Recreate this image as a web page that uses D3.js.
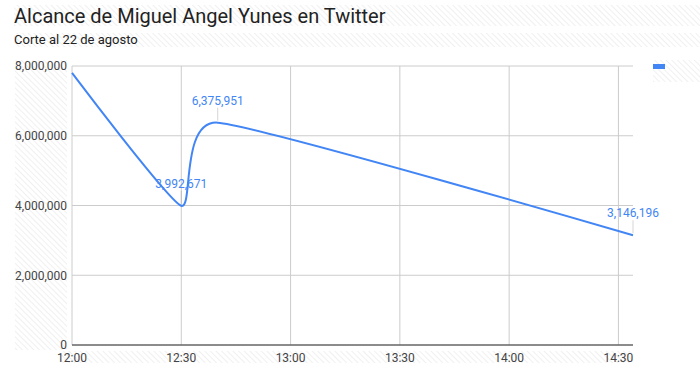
<!DOCTYPE html>
<html>
<head>
<meta charset="utf-8">
<script src="https://cdn.jsdelivr.net/npm/d3@7"></script>
<style>
  body { margin: 0; background: #fff; }
  svg { display: block; font-family: Roboto, "Noto Sans", sans-serif; }
</style>
</head>
<body>
<div id="chart"></div>
<script>
// Data
const times = ["12:00", "12:30", "12:40", "14:34"];
const values = [7800000, 3992671, 6375951, 3146196];
const labeled = [false, true, true, true];
const yTicks = [0, 2000000, 4000000, 6000000, 8000000];
const xTicks = ["12:00", "12:30", "13:00", "13:30", "14:00", "14:30"];
const seriesNames = [""];

const width = 700, height = 370;
const margin = { top: 66, right: 67, bottom: 25, left: 72 };
const blue = "#4285f4";

const parse = d3.timeParse("%H:%M");
const data = times.map((t, i) => ({ t: parse(t), v: values[i], label: labeled[i] }));

const svg = d3.select("#chart").append("svg")
    .attr("width", width)
    .attr("height", height);

// hatch pattern used behind the text areas
const defs = svg.append("defs");
defs.append("pattern")
    .attr("id", "hatch")
    .attr("patternUnits", "userSpaceOnUse")
    .attr("width", 4)
    .attr("height", 4)
    .attr("patternTransform", "rotate(-45)")
    .append("line")
    .attr("x1", 0).attr("y1", 0)
    .attr("x2", 0).attr("y2", 4)
    .attr("stroke", "#ececec")
    .attr("stroke-width", 1.6);

const hatchBoxes = [
    [14, 5, 686, 21],   // title
    [14, 33, 686, 14],  // subtitle
    [15, 60, 52, 290],  // y labels
    [60, 351, 573, 12], // x labels
    [653, 60, 47, 22]   // legend
];
svg.append("g").selectAll("rect")
    .data(hatchBoxes)
    .join("rect")
    .attr("x", d => d[0]).attr("y", d => d[1])
    .attr("width", d => d[2]).attr("height", d => d[3])
    .attr("fill", "url(#hatch)");

const x = d3.scaleTime()
    .domain(d3.extent(data, d => d.t))
    .range([margin.left, width - margin.right]);

const y = d3.scaleLinear()
    .domain([0, 8000000])
    .range([height - margin.bottom, margin.top]);

// plot background
svg.append("rect")
    .attr("x", margin.left).attr("y", margin.top)
    .attr("width", width - margin.right - margin.left)
    .attr("height", height - margin.bottom - margin.top)
    .attr("fill", "#fff");

// gridlines
const grid = svg.append("g");
grid.selectAll(".hgrid")
    .data(yTicks)
    .join("line")
    .attr("x1", margin.left).attr("x2", width - margin.right)
    .attr("y1", d => y(d)).attr("y2", d => y(d))
    .attr("stroke", "#cccccc");

grid.selectAll(".vgrid")
    .data(xTicks)
    .join("line")
    .attr("x1", d => x(parse(d))).attr("x2", d => x(parse(d)))
    .attr("y1", margin.top).attr("y2", height - margin.bottom)
    .attr("stroke", "#cccccc");

// baseline
svg.append("line")
    .attr("x1", margin.left).attr("x2", width - margin.right)
    .attr("y1", y(0)).attr("y2", y(0))
    .attr("stroke", "#333")
    .attr("stroke-width", 1.2);

// y axis labels
const fmt = d3.format(",");
svg.append("g").selectAll("text")
    .data(yTicks)
    .join("text")
    .attr("x", margin.left - 5)
    .attr("y", d => y(d))
    .attr("dy", "0.36em")
    .attr("text-anchor", "end")
    .attr("font-size", 12)
    .attr("fill", "#444")
    .text(d => fmt(d));

// x axis labels
svg.append("g").selectAll("text")
    .data(xTicks)
    .join("text")
    .attr("x", d => x(parse(d)))
    .attr("y", y(0) + 17)
    .attr("text-anchor", "middle")
    .attr("font-size", 12)
    .attr("fill", "#444")
    .text(d => d);

// the line, smoothed like the original "function" curve
const line = d3.line()
    .x(d => x(d.t))
    .y(d => y(d.v))
    .curve(d3.curveCardinal.tension(0.5));

svg.append("path")
    .datum(data)
    .attr("d", line)
    .attr("fill", "none")
    .attr("stroke", blue)
    .attr("stroke-width", 2);

// annotations
const ann = svg.append("g").selectAll("g")
    .data(data.filter(d => d.label))
    .join("g")
    .attr("transform", d => `translate(${x(d.t)},${y(d.v)})`);

ann.append("line")
    .attr("x1", 0).attr("x2", 0)
    .attr("y1", -15).attr("y2", -2)
    .attr("stroke", "#999")
    .attr("stroke-opacity", 0.4);

ann.append("text")
    .attr("y", -18)
    .attr("text-anchor", "middle")
    .attr("font-size", 12)
    .attr("fill", blue)
    .text(d => fmt(d.v));

// legend (series has no name)
const legend = svg.append("g")
    .attr("transform", "translate(653,64)");
legend.selectAll("rect")
    .data(seriesNames)
    .join("rect")
    .attr("width", 12).attr("height", 5)
    .attr("fill", blue);
legend.selectAll("text")
    .data(seriesNames)
    .join("text")
    .attr("x", 16).attr("y", 5)
    .attr("font-size", 12)
    .text(d => d);

// titles
svg.append("text")
    .attr("x", 14).attr("y", 23)
    .attr("font-size", 20)
    .attr("fill", "#222")
    .text("Alcance de Miguel Angel Yunes en Twitter");

svg.append("text")
    .attr("x", 14).attr("y", 44)
    .attr("font-size", 13)
    .attr("fill", "#222")
    .text("Corte al 22 de agosto");
</script>
</body>
</html>
